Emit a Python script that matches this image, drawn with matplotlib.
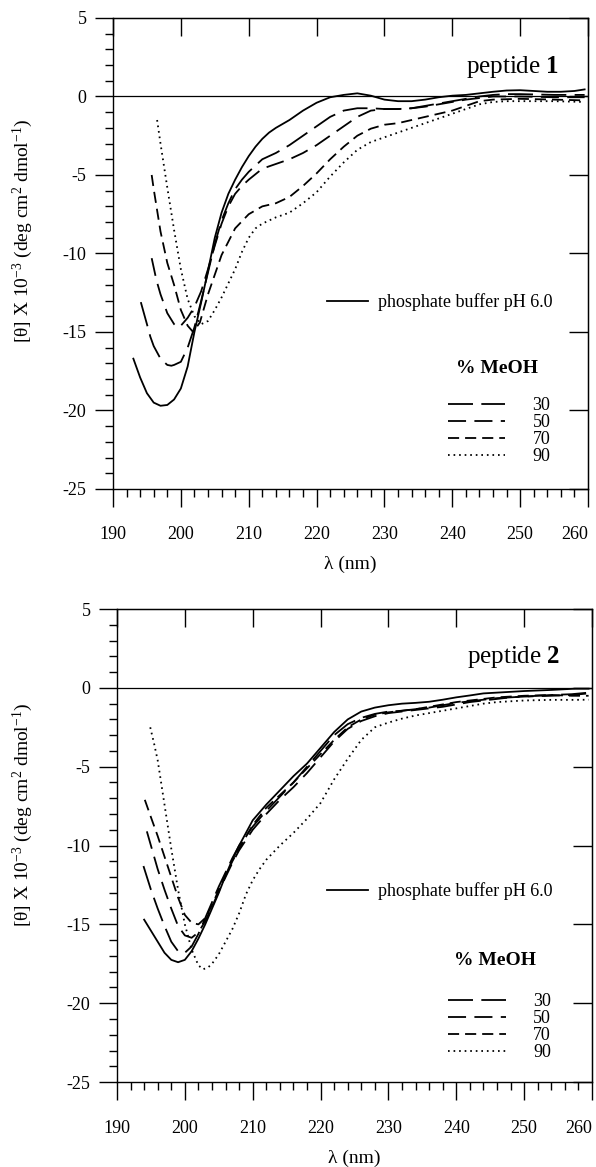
import numpy as np
import matplotlib
matplotlib.use('Agg')
import matplotlib.pyplot as plt
from matplotlib.lines import Line2D

plt.rcParams['font.family'] = ['Liberation Serif', 'DejaVu Serif']
plt.rcParams['mathtext.fontset'] = 'custom'
plt.rcParams['mathtext.rm'] = 'Liberation Serif'
plt.rcParams['mathtext.it'] = 'Liberation Serif:italic'
plt.rcParams['mathtext.bf'] = 'Liberation Serif:bold'
plt.rcParams['axes.unicode_minus'] = False
plt.rcParams['lines.scale_dashes'] = False

# ---------------- peptide 1 ----------------
p1_buf_x = [193, 194, 195, 196, 197, 198, 199, 200, 201, 202, 203, 204, 205, 206, 207, 208, 209, 210,
            211, 212, 213, 214, 216, 218, 220, 222, 224, 226, 228, 230, 232, 234, 236, 238, 240, 242,
            244, 246, 248, 250, 252, 254, 256, 258, 259.5]
p1_buf_y = [-16.7, -17.9, -18.9, -19.5, -19.7, -19.65, -19.3, -18.6, -17.2, -15.0, -13.1, -11.1, -9.0,
            -7.4, -6.2, -5.3, -4.5, -3.8, -3.2, -2.7, -2.3, -2.0, -1.5, -0.9, -0.4, -0.05, 0.1, 0.2,
            0.05, -0.2, -0.3, -0.3, -0.2, -0.05, 0.05, 0.1, 0.2, 0.3, 0.38, 0.4, 0.35, 0.3, 0.3, 0.35, 0.45]

p1_30_x = [194.1, 195, 195.5, 196, 197, 198, 198.6, 199, 200, 201, 202, 203, 204, 205, 206, 207, 208,
           209, 210, 212, 214, 216, 218, 220, 222, 224, 226, 228, 230, 232, 234, 236, 238, 240, 242,
           244, 246, 248, 250, 255, 259.5]
p1_30_y = [-13.1, -14.5, -15.3, -15.9, -16.7, -17.1, -17.15, -17.1, -16.9, -16.0, -14.7, -13.0, -11.2,
           -9.4, -7.9, -6.8, -5.9, -5.3, -4.8, -4.0, -3.6, -3.1, -2.5, -1.9, -1.3, -0.9, -0.75, -0.75,
           -0.8, -0.8, -0.75, -0.6, -0.45, -0.3, -0.15, 0.0, 0.1, 0.15, 0.15, 0.1, 0.1]

p1_50_x = [195.7, 196.4, 197, 198, 199, 199.5, 200, 201, 202, 203, 204, 205, 206, 207, 208, 209, 210,
           212, 214, 216, 218, 220, 222, 224, 226, 228, 230, 232, 234, 236, 238, 240, 242, 244, 246,
           248, 250, 255, 259.5]
p1_50_y = [-10.3, -11.7, -12.6, -13.8, -14.5, -14.7, -14.6, -14.1, -13.4, -12.4, -11.0, -9.5, -8.1,
           -7.0, -6.2, -5.7, -5.3, -4.6, -4.3, -4.0, -3.6, -3.1, -2.5, -1.9, -1.3, -0.9, -0.8, -0.8,
           -0.75, -0.65, -0.5, -0.35, -0.2, -0.1, 0.0, 0.0, 0.0, -0.05, -0.05]

p1_70_x = [195.7, 196, 197, 198, 199, 200, 201, 201.8, 202.8, 204, 206, 208, 210, 212, 214, 216, 218,
           220, 222, 224, 226, 228, 230, 232, 234, 236, 238, 240, 242, 244, 246, 250, 255, 259.5]
p1_70_y = [-5.0, -5.9, -8.6, -10.6, -12.0, -13.6, -14.6, -15.0, -14.4, -12.6, -10.1, -8.4, -7.5, -7.0,
           -6.8, -6.4, -5.7, -4.9, -4.0, -3.2, -2.5, -2.05, -1.8, -1.7, -1.5, -1.3, -1.1, -0.9, -0.6,
           -0.3, -0.2, -0.15, -0.2, -0.25]

p1_90_x = [196.5, 197, 198, 199, 200, 201, 202, 203, 204, 205, 206, 207, 208, 209, 210, 211, 212, 214,
           216, 218, 220, 222, 224, 226, 228, 230, 232, 234, 236, 238, 240, 242, 244, 246, 248, 250,
           255, 259.5]
p1_90_y = [-1.5, -3.0, -5.8, -8.5, -11.0, -12.9, -14.0, -14.5, -14.3, -13.6, -12.8, -11.9, -11.0, -9.9,
           -9.0, -8.4, -8.1, -7.7, -7.4, -6.8, -6.1, -5.1, -4.2, -3.4, -2.9, -2.6, -2.3, -2.0, -1.7,
           -1.4, -1.1, -0.8, -0.5, -0.35, -0.3, -0.3, -0.3, -0.35]

# ---------------- peptide 2 ----------------
p2_buf_x = [194, 195, 196, 197, 198, 199, 200, 201, 202, 203, 204, 205, 206, 207, 208, 210, 212, 214,
            216, 218, 220, 222, 224, 226, 228, 230, 232, 234, 236, 238, 240, 242, 244, 246, 248, 250,
            254, 257.5, 259.5]
p2_buf_y = [-14.7, -15.4, -16.1, -16.8, -17.25, -17.4, -17.25, -16.7, -15.9, -15.0, -14.0, -13.0, -11.9,
            -10.9, -10.0, -8.4, -7.4, -6.5, -5.6, -4.8, -3.8, -2.8, -2.0, -1.5, -1.25, -1.1, -1.0,
            -0.95, -0.88, -0.75, -0.6, -0.48, -0.35, -0.3, -0.25, -0.2, -0.13, -0.05, -0.05]

p2_30_x = [193.9, 195, 196, 197, 198, 199, 200, 201, 202, 203, 204, 205, 206, 207, 208, 210, 212, 214,
           216, 218, 220, 222, 224, 226, 228, 230, 232, 234, 236, 238, 240, 242, 244, 246, 248, 250,
           254, 257, 259.5]
p2_30_y = [-11.3, -12.8, -14.0, -15.1, -16.1, -16.7, -16.8, -16.4, -15.6, -14.6, -13.6, -12.6, -11.7,
           -10.8, -10.0, -8.8, -7.8, -6.9, -6.0, -5.0, -4.0, -3.0, -2.3, -1.9, -1.65, -1.5, -1.45,
           -1.35, -1.25, -1.1, -0.95, -0.85, -0.75, -0.65, -0.6, -0.55, -0.45, -0.4, -0.3]

p2_50_x = [194.4, 195, 196, 197, 198, 199, 200, 201, 202, 203, 204, 205, 206, 207, 208, 210, 212, 214,
           216, 218, 220, 222, 224, 226, 228, 230, 232, 234, 236, 238, 240, 242, 244, 246, 248, 250,
           254, 257, 259.5]
p2_50_y = [-9.1, -10.0, -11.5, -12.8, -14.0, -15.1, -15.7, -15.85, -15.5, -14.8, -13.9, -12.9, -12.0,
           -11.1, -10.3, -9.0, -8.0, -7.1, -6.3, -5.4, -4.4, -3.4, -2.6, -2.1, -1.8, -1.6, -1.5, -1.4,
           -1.3, -1.2, -1.05, -0.9, -0.8, -0.7, -0.6, -0.55, -0.5, -0.45, -0.35]

p2_70_x = [194.1, 195, 196, 197, 198, 199, 200, 201, 202, 203, 204, 205, 206, 207, 208, 210, 212, 214,
           216, 218, 220, 222, 224, 226, 228, 230, 232, 234, 236, 238, 240, 242, 244, 246, 248, 250,
           254, 257, 259.5]
p2_70_y = [-7.1, -8.2, -9.4, -10.7, -12.0, -13.3, -14.4, -14.9, -15.0, -14.6, -13.8, -12.8, -11.9, -11.0,
           -10.2, -8.7, -7.6, -6.8, -6.0, -5.1, -4.2, -3.3, -2.5, -2.0, -1.7, -1.55, -1.45, -1.35,
           -1.2, -1.05, -0.9, -0.8, -0.7, -0.6, -0.55, -0.5, -0.45, -0.5, -0.5]

p2_90_x = [194.9, 195.5, 196, 197, 198, 199, 200, 201, 202, 202.7, 203.5, 204, 205, 206, 207, 208, 209,
           210, 211, 212, 214, 216, 218, 220, 222, 224, 226, 228, 230, 232, 234, 236, 238, 240, 242,
           244, 246, 248, 250, 254, 257, 259.5]
p2_90_y = [-2.5, -3.6, -4.6, -7.4, -10.2, -12.8, -15.0, -16.6, -17.6, -17.85, -17.7, -17.5, -16.9,
           -16.1, -15.3, -14.3, -13.1, -12.2, -11.5, -10.9, -10.0, -9.2, -8.3, -7.3, -5.8, -4.5, -3.3,
           -2.5, -2.2, -1.95, -1.75, -1.6, -1.45, -1.3, -1.15, -1.0, -0.9, -0.85, -0.8, -0.76, -0.76,
           -0.75]

meoh_labels = ['30', '50', '70', '90']
dash_styles = [(0, (18, 6)), (0, (13, 6)), (0, (8, 4.3)), (0, (1.2, 2.8))]
lw = 1.3

panels = [
    dict(name='1', rect=[0.1896, 0.5810, 0.797, 0.4036],
         buf=(p1_buf_x, p1_buf_y),
         meoh=[(p1_30_x, p1_30_y), (p1_50_x, p1_50_y), (p1_70_x, p1_70_y), (p1_90_x, p1_90_y)],
         lbl_xy=(255.8, 1.5), buf_leg=(221.5, -13.1), meoh_title=(246.6, -17.3),
         meoh_leg=(239.3, -21.3), ylab=(-0.164, 0.548)),
    dict(name='2', rect=[0.1963, 0.0728, 0.797, 0.4053],
         buf=(p2_buf_x, p2_buf_y),
         meoh=[(p2_30_x, p2_30_y), (p2_50_x, p2_50_y), (p2_70_x, p2_70_y), (p2_90_x, p2_90_y)],
         lbl_xy=(255.3, 1.6), buf_leg=(220.9, -12.9), meoh_title=(245.7, -17.3),
         meoh_leg=(238.8, -21.5), ylab=(-0.173, 0.564)),
]

fig = plt.figure(figsize=(5.96, 11.67), dpi=100)

for p in panels:
    ax = fig.add_axes(p['rect'])
    ax.plot(p['buf'][0], p['buf'][1], color='k', lw=lw, ls='-')
    for (xs, ys), ds in zip(p['meoh'], dash_styles):
        ax.plot(xs, ys, color='k', lw=lw, ls=ds)
    ax.axhline(0, color='k', lw=0.9)

    ax.set_xlim(190, 260)
    ax.set_ylim(-25, 5)
    ax.set_xticks(np.arange(190, 261, 10))
    ax.set_xticks(np.arange(190, 261, 2), minor=True)
    ax.set_yticks(np.arange(-25, 6, 5))
    ax.set_yticks(np.arange(-25, 6, 1), minor=True)
    ax.tick_params(axis='both', which='both', direction='out', top=False, right=False,
                   width=1.0, labelsize=13)
    ax.tick_params(axis='x', which='major', length=13, pad=14)
    ax.tick_params(axis='x', which='minor', length=6)
    ax.tick_params(axis='y', which='major', length=13, pad=6)
    ax.tick_params(axis='y', which='minor', length=6)
    for s in ax.spines.values():
        s.set_linewidth(1.0)
    # last x label pulled left so it stays inside the page
    ax.get_xticklabels()[-1].set_horizontalalignment('right')

    # inward ticks on top and right frame
    top = ax.secondary_xaxis('top')
    top.set_xticks(np.arange(190, 261, 10))
    top.tick_params(direction='in', length=13, width=1.0, labeltop=False)
    right = ax.secondary_yaxis('right')
    right.set_yticks(np.arange(-25, 6, 5))
    right.tick_params(direction='in', length=14, width=1.0, labelright=False)

    ax.set_xlabel('λ (nm)', fontsize=14)
    ax.xaxis.set_label_coords(0.5, -0.142)
    ax.set_ylabel(r'[θ] X 10$^{-3}$ (deg cm$^{2}$ dmol$^{-1}$)', fontsize=14)
    ax.yaxis.set_label_coords(*p['ylab'])

    ax.text(p['lbl_xy'][0], p['lbl_xy'][1], 'peptide $\\mathbf{' + p['name'] + '}$',
            ha='right', va='baseline', fontsize=18)

    h_buf = Line2D([], [], color='k', lw=lw)
    leg1 = ax.legend([h_buf], ['phosphate buffer pH 6.0'], loc='center left',
                     bbox_to_anchor=p['buf_leg'], bbox_transform=ax.transData,
                     frameon=False, borderpad=0, borderaxespad=0, handlelength=2.3,
                     handletextpad=0.55, fontsize=13)
    ax.add_artist(leg1)

    ax.text(p['meoh_title'][0], p['meoh_title'][1], '% MeOH', ha='center', va='center',
            fontsize=14, fontweight='bold')
    hs = [Line2D([], [], color='k', lw=lw, ls=ds) for ds in dash_styles]
    ax.legend(hs, meoh_labels, loc='center left', bbox_to_anchor=p['meoh_leg'],
              bbox_transform=ax.transData, frameon=False, borderpad=0, borderaxespad=0,
              handlelength=3.2, handletextpad=1.5, labelspacing=0.0, fontsize=13)

fig.savefig('out.png', dpi=100)
